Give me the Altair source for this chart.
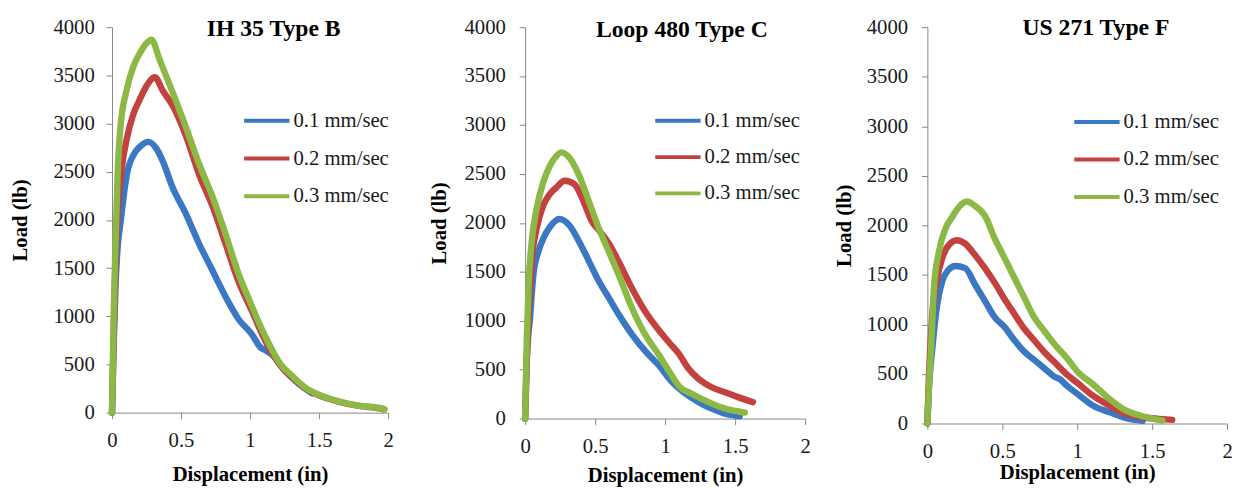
import altair as alt
import pandas as pd

series = ["0.1 mm/sec", "0.2 mm/sec", "0.3 mm/sec"]
colors = ["#3B78C3", "#C3413E", "#8CB945"]
titles = ["IH 35 Type B", "Loop 480 Type C", "US 271 Type F"]
x_ticks = [0, 0.5, 1, 1.5, 2]
y_ticks = [0, 500, 1000, 1500, 2000, 2500, 3000, 3500, 4000]

# ---- IH 35 Type B ----
p1_b_x = [0, 0.012, 0.025, 0.04, 0.06, 0.083, 0.107, 0.155, 0.202, 0.262, 0.321, 0.369, 0.44, 0.536, 0.631,
          0.726, 0.821, 0.917, 1.012, 1.074, 1.12, 1.169, 1.24, 1.336, 1.431, 1.45]
p1_b_y = [0, 700, 1300, 1700, 1957, 2230, 2469, 2673, 2759, 2810, 2742, 2605, 2333, 2060, 1752,
          1480, 1207, 969, 815, 680, 640, 590, 460, 320, 218, 200]
p1_r_x = [0, 0.012, 0.024, 0.036, 0.071, 0.107, 0.155, 0.202, 0.25, 0.31, 0.369, 0.44, 0.536, 0.631, 0.726,
          0.821, 0.917, 1.012, 1.12, 1.22, 1.31, 1.4, 1.5, 1.64, 1.79, 1.95, 1.97]
p1_r_y = [0, 800, 1483, 1957, 2537, 2844, 3100, 3253, 3390, 3480, 3338, 3185, 2870, 2470, 2150,
          1760, 1360, 1060, 720, 490, 360, 255, 180, 115, 70, 42, 35]
p1_g_x = [0, 0.012, 0.024, 0.04, 0.06, 0.107, 0.155, 0.202, 0.25, 0.286, 0.345, 0.44, 0.536, 0.631, 0.726,
          0.821, 0.917, 1.0, 1.05, 1.121, 1.217, 1.312, 1.407, 1.502, 1.645, 1.788, 1.955, 1.975]
p1_g_y = [0, 1000, 1690, 2450, 2946, 3355, 3594, 3731, 3833, 3870, 3662, 3321, 2960, 2580, 2250,
          1860, 1440, 1150, 980, 760, 510, 372, 252, 184, 116, 72, 44, 35]

# ---- Loop 480 Type C ----
p2_b_x = [0, 0.012, 0.035, 0.059, 0.094, 0.129, 0.176, 0.246, 0.317, 0.387, 0.458, 0.528, 0.599, 0.669,
          0.763, 0.857, 0.951, 1.052, 1.146, 1.24, 1.333, 1.428, 1.533]
p2_b_y = [0, 600, 1029, 1468, 1703, 1838, 1956, 2040, 1973, 1805, 1602, 1400, 1231, 1063,
          860, 691, 550, 371, 253, 168, 101, 51, 26]
p2_r_x = [0, 0.012, 0.024, 0.047, 0.082, 0.129, 0.176, 0.223, 0.282, 0.352, 0.41, 0.48, 0.528, 0.599, 0.669,
          0.763, 0.857, 0.951, 1.03, 1.1, 1.169, 1.24, 1.333, 1.428, 1.52, 1.627]
p2_r_y = [0, 600, 1029, 1602, 1939, 2176, 2294, 2361, 2430, 2395, 2243, 2007, 1923, 1787, 1602,
          1332, 1096, 910, 775, 658, 506, 405, 320, 269, 219, 168]
p2_g_x = [0, 0.012, 0.024, 0.047, 0.082, 0.129, 0.176, 0.223, 0.258, 0.317, 0.387, 0.458, 0.528, 0.599,
          0.669, 0.763, 0.857, 0.951, 1.03, 1.1, 1.19, 1.31, 1.43, 1.57]
p2_g_y = [0, 800, 1332, 1805, 2142, 2412, 2581, 2682, 2720, 2665, 2480, 2210, 1939, 1703,
          1468, 1130, 860, 660, 480, 330, 253, 168, 101, 61]

# ---- US 271 Type F ----
p3_b_x = [0, 0.01, 0.03, 0.066, 0.099, 0.142, 0.186, 0.252, 0.318, 0.384, 0.45, 0.516, 0.581, 0.647, 0.713,
          0.778, 0.844, 0.888, 0.932, 1.0, 1.107, 1.217, 1.327, 1.436]
p3_b_y = [0, 350, 708, 1204, 1435, 1552, 1590, 1568, 1403, 1237, 1071, 972, 840, 724, 642,
          560, 476, 443, 380, 300, 179, 113, 54, 27]
p3_r_x = [0, 0.01, 0.03, 0.066, 0.099, 0.142, 0.197, 0.252, 0.318, 0.384, 0.45, 0.516, 0.581, 0.647, 0.713,
          0.778, 0.844, 0.932, 1.0, 1.107, 1.217, 1.327, 1.436, 1.546, 1.634]
p3_r_y = [0, 450, 1039, 1468, 1667, 1800, 1850, 1815, 1700, 1568, 1419, 1254, 1105, 956, 840,
          724, 625, 493, 411, 278, 179, 96, 63, 47, 37]
p3_g_x = [0, 0.01, 0.022, 0.044, 0.077, 0.12, 0.164, 0.208, 0.263, 0.318, 0.384, 0.45, 0.516, 0.581, 0.647,
          0.713, 0.778, 0.844, 0.932, 1.0, 1.107, 1.217, 1.327, 1.436, 1.568]
p3_g_y = [0, 350, 675, 1369, 1733, 1964, 2080, 2180, 2240, 2196, 2097, 1865, 1667, 1468, 1270,
          1071, 939, 808, 659, 526, 394, 245, 129, 73, 30]

panels_data = [
    [(p1_b_x, p1_b_y), (p1_r_x, p1_r_y), (p1_g_x, p1_g_y)],
    [(p2_b_x, p2_b_y), (p2_r_x, p2_r_y), (p2_g_x, p2_g_y)],
    [(p3_b_x, p3_b_y), (p3_r_x, p3_r_y), (p3_g_x, p3_g_y)],
]

layout = [
    dict(w=280, h=391, ylp=12, ytp=22.5, xlp=11, xtp=14, tx=164, ty=2, lx=143.5, ly=81.5, rp=14.3, extra=298),
    dict(w=284, h=397, ylp=14, ytp=15, xlp=11, xtp=9, tx=159, ty=3, lx=141.5, ly=81.5, rp=12.8, extra=None),
    dict(w=304, h=402, ylp=14, ytp=12, xlp=11, xtp=1, tx=171, ty=1, lx=158.5, ly=82.7, rp=14, extra=None),
]

FONT = "Liberation Serif"


def make_panel(i):
    rows = []
    for s, (xs, ys) in zip(series, panels_data[i]):
        for xv, yv in zip(xs, ys):
            rows.append({"x": xv, "y": yv, "series": s})
    df = pd.DataFrame(rows)
    L = layout[i]
    lines = alt.Chart(df).mark_line(strokeWidth=6.5, strokeJoin="round", strokeCap="round",
                                    interpolate="monotone").encode(
        x=alt.X("x:Q", scale=alt.Scale(domain=[0, 2], nice=False),
                axis=alt.Axis(title="Displacement (in)", values=x_ticks, format="~g",
                              labelPadding=L["xlp"], titlePadding=L["xtp"], labelFlush=False)),
        y=alt.Y("y:Q", scale=alt.Scale(domain=[0, 4000], nice=False),
                axis=alt.Axis(title="Load (lb)", values=y_ticks, format="d",
                              labelPadding=L["ylp"], titlePadding=L["ytp"])),
        color=alt.Color("series:N", scale=alt.Scale(domain=series, range=colors),
                        legend=alt.Legend(orient="none", legendX=L["lx"], legendY=L["ly"], title=None,
                                          symbolType="M-2,0H2", symbolSize=529, symbolStrokeWidth=4,
                                          labelFont=FONT, labelFontSize=21, labelColor="#1a1a1a",
                                          labelOffset=13.5, rowPadding=L["rp"], padding=0)),
    )
    ttl = alt.Chart(pd.DataFrame({"t": [titles[i]]})).mark_text(
        font=FONT, fontSize=24, fontWeight="bold", align="center", baseline="middle", color="#000000"
    ).encode(text="t:N", x=alt.value(L["tx"]), y=alt.value(L["ty"]))
    layers = [lines, ttl]
    if L["extra"] is not None:
        spacer = alt.Chart(pd.DataFrame({"d": [0]})).mark_rule(opacity=0, strokeOpacity=0).encode(
            x=alt.value(L["extra"]), y=alt.value(0), y2=alt.value(10))
        layers.append(spacer)
    return alt.layer(*layers).properties(width=L["w"], height=L["h"])


chart = alt.hconcat(make_panel(0), make_panel(1), make_panel(2), spacing=23).resolve_scale(
    color="independent", x="independent", y="independent"
).resolve_legend(color="independent").properties(
    padding={"left": 1.5, "top": 5, "right": 0, "bottom": 0}
).configure_view(stroke=None).configure_axis(
    grid=False, domainColor="#868686", tickColor="#868686", tickSize=6,
    labelFont=FONT, labelFontSize=21, labelColor="#1a1a1a",
    titleFont=FONT, titleFontSize=21, titleFontWeight="bold", titleColor="#000000",
)

chart.save("out.html", embed_options={"renderer": "svg", "actions": False})
